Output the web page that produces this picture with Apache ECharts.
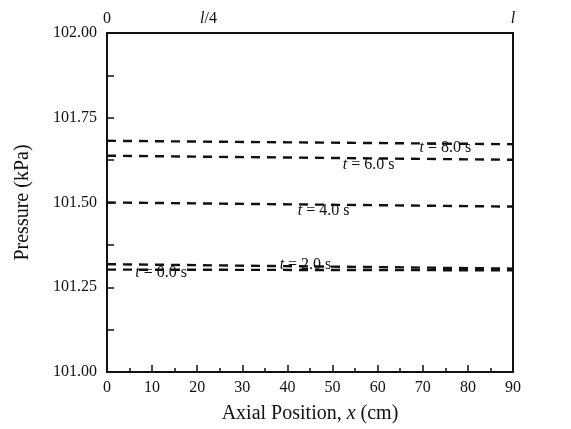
<!DOCTYPE html>
<html>
<head>
<meta charset="utf-8">
<script src="https://cdn.jsdelivr.net/npm/echarts@6/dist/echarts.min.js"></script>
<style>
  html, body { margin: 0; padding: 0; background: #fff; }
  #chart { width: 571px; height: 429px; }
</style>
</head>
<body>
<div id="chart"></div>
<script>
// Axial positions (cm) where the pressure profile is sampled
const positions = [0, 90];
// Pressure (kPa) along the tube at each time
const p0s = [101.318, 101.305];
const p2s = [101.302, 101.300];
const p4s = [101.500, 101.488];
const p6s = [101.638, 101.626];
const p8s = [101.682, 101.672];
const seriesNames = ['0.0', '2.0', '4.0', '6.0', '8.0'];
const seriesValues = [p0s, p2s, p4s, p6s, p8s];
// where each time label sits along x, and its vertical offset
const labelX = [12, 44, 48, 58, 75];
const labelDy = [8, -5, 6, 6, 4];
// top axis tick labels
const topTicks = { 0: '0', 22.5: '{i|l}/4', 90: '{i|l}' };

const font = 'Liberation Serif, Times New Roman, serif';
const chart = echarts.init(document.getElementById('chart'));

function valueAt(vals, x) {
  const t = (x - positions[0]) / (positions[positions.length - 1] - positions[0]);
  return vals[0] + (vals[vals.length - 1] - vals[0]) * t;
}

const series = seriesNames.map((name, k) => ({
  type: 'line',
  name: 't = ' + name + ' s',
  data: positions.map((x, i) => [x, seriesValues[k][i]]),
  symbol: 'none',
  silent: true,
  lineStyle: { color: '#111', width: 2.4, type: [9, 7] },
  markPoint: {
    symbol: 'circle', symbolSize: 0,
    data: [{ coord: [labelX[k], valueAt(seriesValues[k], labelX[k])] }],
    label: {
      show: true, position: 'inside', offset: [0, labelDy[k]],
      formatter: '{i|t} = ' + name + ' s',
      color: '#111', fontFamily: font, fontSize: 16,
      rich: { i: { fontStyle: 'italic', fontFamily: font, fontSize: 16, color: '#111' } }
    }
  }
}));

chart.setOption({
  animation: false,
  backgroundColor: '#fff',
  grid: { left: 107, right: 58, top: 33, bottom: 56, show: false },
  xAxis: [{
    type: 'value', min: 0, max: 90, interval: 10,
    name: 'Axial Position, {i|x} (cm)', nameLocation: 'middle', nameGap: 32,
    nameTextStyle: { fontFamily: font, fontSize: 20, color: '#111',
      rich: { i: { fontStyle: 'italic', fontFamily: font, fontSize: 20, color: '#111' } } },
    axisLine: { show: true, onZero: false, lineStyle: { color: '#111', width: 2 } },
    axisTick: { show: true, inside: true, length: 7, lineStyle: { color: '#111', width: 1.5 } },
    minorTick: { show: true, splitNumber: 2, length: 4, lineStyle: { color: '#111', width: 1.5 } },
    axisLabel: { fontFamily: font, fontSize: 16, color: '#111', margin: 8 },
    splitLine: { show: false }
  }, {
    type: 'value', position: 'top', min: 0, max: 90, interval: 22.5,
    axisLine: { show: true, onZero: false, lineStyle: { color: '#111', width: 2 } },
    axisTick: { show: false },
    axisLabel: {
      fontFamily: font, fontSize: 16, color: '#111', margin: 6,
      formatter: v => topTicks[v] || '',
      rich: { i: { fontStyle: 'italic', fontFamily: font, fontSize: 16, color: '#111' } }
    },
    splitLine: { show: false }
  }],
  yAxis: [{
    type: 'value', min: 101, max: 102, interval: 0.25,
    name: 'Pressure (kPa)', nameLocation: 'middle', nameGap: 74, nameRotate: 90,
    nameTextStyle: { fontFamily: font, fontSize: 20, color: '#111' },
    axisLine: { show: true, onZero: false, lineStyle: { color: '#111', width: 2 } },
    axisTick: { show: true, inside: true, length: 7, lineStyle: { color: '#111', width: 1.5 } },
    minorTick: { show: true, splitNumber: 2, length: 7, lineStyle: { color: '#111', width: 1.5 } },
    axisLabel: { fontFamily: font, fontSize: 16, color: '#111', margin: 10,
      formatter: v => v.toFixed(2) },
    splitLine: { show: false }
  }, {
    type: 'value', position: 'right', min: 101, max: 102, interval: 0.25,
    axisLine: { show: true, onZero: false, lineStyle: { color: '#111', width: 2 } },
    axisTick: { show: false }, axisLabel: { show: false }, splitLine: { show: false }
  }],
  series: series
});
</script>
</body>
</html>
